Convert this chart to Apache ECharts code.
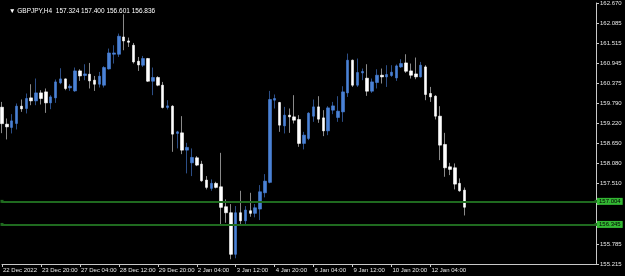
<!DOCTYPE html>
<html><head><meta charset="utf-8">
<script src="https://cdn.jsdelivr.net/npm/echarts@6/dist/echarts.min.js"></script>
<style>html,body{margin:0;padding:0;background:#000}#c{width:625px;height:276px}</style>
</head><body><div id="c"></div>
<script>
const symbolName = 'GBPJPY,H4';
const xLabels = ['22 Dec 2022','23 Dec 20:00','27 Dec 04:00','28 Dec 12:00','29 Dec 20:00','2 Jan 04:00','3 Jan 12:00','4 Jan 20:00','6 Jan 04:00','9 Jan 12:00','10 Jan 20:00','12 Jan 04:00'];
const barsPerLabel = 8;
const totalSlots = 123;
const yLabels = ['155.215','155.785','','','157.510','158.080','158.650','159.220','159.790','160.375','160.945','161.515','162.085','162.670'];
const levels = [157.004, 156.345];

const opens = [159.694,159.209,159.115,159.229,159.723,159.657,159.960,159.874,160.102,160.131,159.817,159.960,160.388,160.502,160.245,160.159,160.730,160.599,160.636,160.465,160.350,160.322,160.787,161.206,161.206,161.700,161.586,161.463,161.007,160.893,161.084,160.436,160.542,160.322,159.686,159.723,158.944,158.961,158.467,158.105,158.248,158.068,157.612,157.375,157.518,157.420,156.850,156.679,155.492,156.679,156.450,156.736,156.662,156.784,157.249,157.546,159.894,159.828,159.161,159.466,159.418,159.343,158.659,158.801,159.437,159.703,159.389,159.018,159.609,159.400,159.560,160.102,161.035,160.322,160.673,160.522,160.151,160.399,160.607,160.559,160.599,160.530,160.844,160.958,160.730,160.644,160.559,160.844,160.085,160.008,159.437,158.630,157.991,157.963,157.518,157.324];
const closes = [159.224,159.132,159.303,159.723,159.646,159.943,159.874,160.102,159.943,159.817,159.988,160.416,160.502,160.228,160.293,160.730,160.587,160.644,160.445,160.350,160.579,160.827,161.243,161.243,161.720,161.586,161.549,160.987,160.901,161.084,160.436,160.542,160.322,159.686,159.731,158.924,158.990,158.467,158.545,158.259,158.040,157.592,157.403,157.518,157.403,156.833,156.679,155.492,156.679,156.450,156.756,156.662,156.821,157.278,157.583,159.914,159.943,159.181,159.466,159.418,159.323,158.659,158.895,159.523,159.703,159.352,159.018,159.674,159.731,159.580,160.131,161.035,160.322,160.684,160.713,160.151,160.416,160.607,160.559,160.627,160.693,160.873,160.941,160.721,160.607,160.559,160.893,160.057,159.988,159.437,158.610,157.963,157.917,157.497,157.306,156.836];
const lows = [158.952,158.773,158.944,159.058,159.560,159.515,159.751,159.751,159.771,159.532,159.637,159.817,160.350,160.179,160.159,160.131,160.445,160.465,160.228,160.159,160.256,160.256,160.770,160.941,161.129,161.320,161.415,160.941,160.730,160.844,160.416,160.037,160.293,159.657,159.629,158.419,158.516,158.353,157.803,157.726,158.011,157.563,157.346,157.306,157.375,156.356,156.393,155.349,155.378,156.356,156.356,156.564,156.547,156.470,157.118,157.520,159.657,158.990,158.944,158.961,159.229,158.562,158.488,158.753,159.275,159.246,158.867,158.895,159.495,159.275,159.275,159.988,160.273,160.273,160.465,160.017,160.102,160.228,160.370,160.273,160.559,160.445,160.816,160.673,160.513,160.493,160.542,159.894,159.845,159.343,158.182,157.706,157.754,157.346,157.278,156.601];
const highs = [159.845,159.372,159.495,159.800,159.914,160.085,160.350,160.513,160.179,160.228,160.037,160.485,160.807,160.513,160.350,160.827,160.778,160.921,160.958,160.587,160.701,160.864,161.369,161.463,161.797,162.348,161.683,161.529,161.129,161.158,161.101,160.827,160.579,160.416,159.894,159.751,159.018,159.438,158.676,158.516,158.296,158.162,157.726,157.632,157.563,158.390,157.061,156.927,156.870,157.306,156.870,157.249,156.927,157.469,157.783,160.159,160.057,159.845,159.703,159.657,160.037,159.466,158.990,159.552,159.914,160.008,159.609,159.723,159.845,160.008,160.293,161.226,161.055,161.084,160.798,160.921,160.513,160.778,160.798,160.893,160.893,160.913,161.064,161.206,160.941,161.112,160.987,160.893,160.273,160.037,159.723,158.961,158.105,158.088,157.660,157.400];

const categories = [];
for (let i = 0; i < totalSlots; i++) {
  const k = i / barsPerLabel;
  categories.push(i % barsPerLabel === 0 && k < xLabels.length ? xLabels[k] : '');
}
const full = opens.map((o, i) => [o, closes[i], lows[i], highs[i]]);
const bodies = opens.map((o, i) => [o, closes[i], Math.min(o, closes[i]), Math.max(o, closes[i])]);
const n = opens.length - 1;
const fmt = v => v.toFixed(3);
const titleText = '\u25BC ' + symbolName + '  ' + [opens[n], highs[n], lows[n], closes[n]].map(fmt).join(' ');

const BLUE = '#4a82d6', WHITE = '#ffffff', AXIS = '#c8c8c8', GREEN = '#1f6a1f';
const font = 'Liberation Sans';

const chart = echarts.init(document.getElementById('c'), null, {renderer: 'canvas'});
chart.setOption({
  backgroundColor: '#000',
  animation: false,
  title: {text: titleText, left: 4, top: 3, textStyle: {color: '#fff', fontSize: 6.5, fontWeight: 'normal', fontFamily: font}},
  grid: {left: 2, right: 29, top: 2.7, bottom: 12},
  xAxis: {
    type: 'category', data: categories, boundaryGap: false,
    axisLine: {show: true, lineStyle: {color: AXIS, width: 1}},
    axisTick: {show: true, length: 3, interval: (i, v) => v !== '', lineStyle: {color: AXIS}},
    axisLabel: {interval: (i, v) => v !== '', align: 'left', margin: 3, color: '#e6e6e6', fontSize: 6, fontFamily: font, padding: [0, 0, 0, 1]},
    splitLine: {show: false}
  },
  yAxis: [
    {type: 'value', min: 155.215, max: 162.670, show: false, scale: true, splitLine: {show: false}},
    {type: 'value', min: 0, max: yLabels.length - 1, interval: 1, position: 'right',
     axisLine: {show: true, lineStyle: {color: AXIS, width: 1}},
     axisTick: {show: true, length: 3, lineStyle: {color: AXIS}},
     axisLabel: {formatter: v => yLabels[Math.round(v)] || '', color: '#e6e6e6', fontSize: 6, fontFamily: font, margin: 4},
     splitLine: {show: false}}
  ],
  series: [
    {type: 'candlestick', data: full, barWidth: 1, yAxisIndex: 0,
     itemStyle: {color: '#2c4e86', color0: '#8a8a8a', borderColor: '#2c4e86', borderColor0: '#8a8a8a', borderWidth: 1}},
    {type: 'candlestick', data: bodies, barWidth: 3, yAxisIndex: 0,
     itemStyle: {color: BLUE, color0: WHITE, borderColor: BLUE, borderColor0: WHITE, borderWidth: 0.6},
     markLine: {
       silent: true, symbol: ['rect', 'rect'], symbolSize: [3, 3], precision: 3,
       data: levels.map(v => ({yAxis: v, lineStyle: {color: GREEN, width: 2, type: 'solid'},
         itemStyle: {color: '#b8f0b8'},
         label: {show: true, position: 'end', distance: 1, formatter: fmt(v), backgroundColor: '#33b833', color: '#000', fontSize: 6, fontFamily: font, padding: [1, 2, 0, 2]}}))
         .concat([{yAxis: closes[n], symbol: 'none', lineStyle: {opacity: 0},
           label: {show: true, position: 'end', distance: 1, formatter: fmt(closes[n]), backgroundColor: '#fff', color: '#000', fontSize: 6, fontFamily: font, padding: [1, 2, 0, 2]}}])
     }}
  ]
});
</script></body></html>
